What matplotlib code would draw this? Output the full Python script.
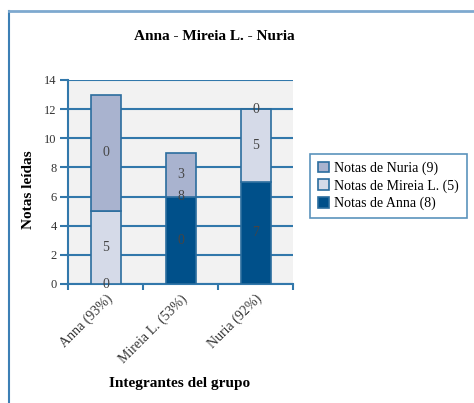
import matplotlib
matplotlib.use("Agg")
import matplotlib.pyplot as plt
from matplotlib.lines import Line2D
import numpy as np

plt.rcParams['font.family'] = ['Liberation Serif', 'DejaVu Serif']

categories = ["Anna (93%)", "Mireia L. (53%)", "Nuria (92%)"]
series_names = ["Notas de Anna (8)", "Notas de Mireia L. (5)", "Notas de Nuria (9)"]
anna_vals = [0, 6, 7]
mireia_vals = [5, 0, 5]
nuria_vals = [8, 3, 0]
anna_labels = ["0", "0", "7"]
mireia_labels = ["5", "8", "5"]
nuria_labels = ["0", "3", "0"]
yticks = [0, 2, 4, 6, 8, 10, 12, 14]

colors = ["#00508a", "#d5dae8", "#a9b3cf"]
edge = "#2b6d9e"
grid_c = "#3278ab"

fig = plt.figure(figsize=(4.74, 4.03), dpi=100)
# outer frame
fig.add_artist(Line2D([9/474, 9/474], [0, 1-11/403], transform=fig.transFigure, color="#3c7fb5", lw=1.5))
fig.add_artist(Line2D([9/474, 1], [1-11/403, 1-11/403], transform=fig.transFigure, color="#7ea9cf", lw=2))

ax = fig.add_axes([68/474, 1-284/403, 225/474, 204/403])
ax.set_facecolor("#f2f2f2")
x = np.arange(len(categories))
w = 0.4
bottom = np.zeros(len(categories))
handles = []
for vals, labs, c, name in zip([anna_vals, mireia_vals, nuria_vals],
                               [anna_labels, mireia_labels, nuria_labels],
                               colors, series_names):
    vals = np.array(vals, dtype=float)
    b = ax.bar(x, vals, w, bottom=bottom, color=c, edgecolor=edge, linewidth=1.2, zorder=3, label=name)
    handles.append(b)
    for xi, v, bt, lab in zip(x, vals, bottom, labs):
        ax.text(xi, bt + v/2, lab, ha='center', va='center', fontsize=10, color="#454545", zorder=4)
    bottom = bottom + vals

ax.set_xlim(-0.5, 2.5)
ax.set_ylim(0, 14)
ax.set_yticks(yticks)
ax.set_yticklabels([str(t) for t in yticks], fontsize=9, color="#333333")
ax.yaxis.grid(True, color=grid_c, lw=1.5, zorder=1)
ax.set_axisbelow(True)
ax.tick_params(axis='y', length=6, width=1.5, color=grid_c, pad=2)
ax.set_xticks([-0.5, 0.5, 1.5, 2.5], minor=False)
ax.set_xticklabels([])
ax.tick_params(axis='x', which='major', length=4, width=1.5, color=grid_c, direction='out')
ax.set_xticks(x, minor=True)
ax.set_xticklabels(categories, minor=True, rotation=45, ha='right', rotation_mode='anchor', fontsize=10, color="#333333")
ax.tick_params(axis='x', which='minor', length=0, pad=6)
for s in ['top', 'right']:
    ax.spines[s].set_visible(False)
for s in ['left', 'bottom']:
    ax.spines[s].set_color(grid_c)
    ax.spines[s].set_linewidth(1.5)

fig.text(29/474, 1-190/403, "Notas leídas", ha='center', va='center', rotation=90, fontsize=11, fontweight='bold')
fig.text(180/474, 1-383/403, "Integrantes del grupo", ha='center', va='center', fontsize=11, fontweight='bold')
fig.text(214/474, 1-36/403, "Anna - Mireia L. - Nuria", ha='center', va='center', fontsize=11, fontweight='bold')

leg = ax.legend(handles[::-1], series_names[::-1], loc='upper left', bbox_to_anchor=(303/474, 1-147/403),
                bbox_transform=fig.transFigure, fontsize=10, frameon=True, fancybox=False,
                handlelength=0.8, handleheight=0.8, handletextpad=0.4, borderpad=0.55, labelspacing=0.3)
leg.get_frame().set_edgecolor(grid_c)
leg.get_frame().set_linewidth(1.2)

fig.savefig("out.png", dpi=100)
